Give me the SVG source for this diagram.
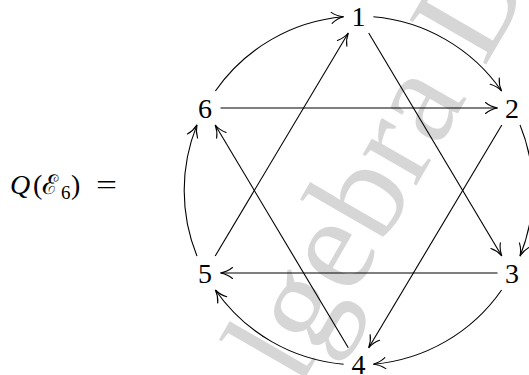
<svg xmlns="http://www.w3.org/2000/svg" width="529" height="375" viewBox="0 0 529 375">
<style>
.lbl{font-family:"Liberation Serif","DejaVu Serif",serif;font-size:28px;fill:#000}
.num{text-anchor:middle}
.e{fill:none;stroke:#000;stroke-width:1.1;marker-end:url(#arr)}
.wm{font-family:"Liberation Serif",serif;font-size:135px;fill:#d6d6d6}
</style>
<defs>
<marker id="arr" markerUnits="userSpaceOnUse" viewBox="-14 -8 16 16" markerWidth="16" markerHeight="16" refX="0" refY="0" orient="auto" overflow="visible">
<path d="M -12,-5.5 C -8,-2.2 -3.5,-0.6 0,0 C -3.5,0.6 -8,2.2 -12,5.5" fill="none" stroke="#000" stroke-width="1.1" stroke-linecap="round"/>
</marker>
</defs>
<rect width="529" height="375" fill="#fff"/>
<text class="wm" transform="translate(250,473.5) rotate(-60)">Algebra D</text>
<g id="title">
<text class="lbl" x="10" y="194" font-style="italic">Q</text>
<text class="lbl" x="33" y="194">(</text>
<text class="lbl" x="42" y="194" style="font-family:'DejaVu Serif',serif;font-size:27px">ℰ</text>
<text class="lbl" x="61" y="199" style="font-size:19px">6</text>
<text class="lbl" x="71" y="194">)</text>
<text class="lbl" x="96" y="194" textLength="21" lengthAdjust="spacingAndGlyphs">=</text>
</g>
<g id="edges">
<path class="e" d="M215.4,91 A174.3,174.3 0 0 1 343.6,16.8"/>
<path class="e" d="M373.4,16.8 A174.3,174.3 0 0 1 501.6,91"/>
<path class="e" d="M520,124.9 A174.3,174.3 0 0 1 520,256.1"/>
<path class="e" d="M501.6,290 A174.3,174.3 0 0 1 373.4,364.2"/>
<path class="e" d="M343.6,364.2 A174.3,174.3 0 0 1 215.4,290"/>
<path class="e" d="M197,256.1 A174.3,174.3 0 0 1 197,124.9"/>
<path class="e" d="M220.5,108 L497.5,108"/>
<path class="e" d="M497.5,273 L220.5,273"/>
<path class="e" d="M368.7,33 L501.8,256"/>
<path class="e" d="M501.8,125 L368.7,347.8"/>
<path class="e" d="M348.3,347.8 L215.2,125"/>
<path class="e" d="M215.2,256 L348.3,33"/>
</g>
<g id="n1"><text class="lbl num" x="358.5" y="25.5">1</text></g>
<g id="n2"><text class="lbl num" x="512" y="117.5">2</text></g>
<g id="n3"><text class="lbl num" x="512" y="282.5">3</text></g>
<g id="n4"><text class="lbl num" x="358.5" y="374">4</text></g>
<g id="n5"><text class="lbl num" x="205" y="282.5">5</text></g>
<g id="n6"><text class="lbl num" x="205" y="117.5">6</text></g>
</svg>
